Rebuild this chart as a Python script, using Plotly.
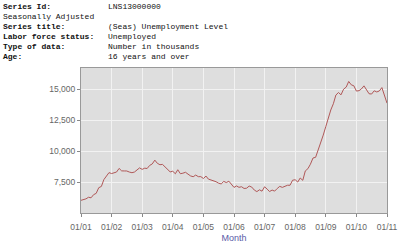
import plotly.graph_objects as go

values = {
    2001: [6023, 6089, 6141, 6271, 6226, 6484, 6583, 7042, 7142, 7694, 8003, 8258],
    2002: [8182, 8215, 8304, 8599, 8399, 8393, 8390, 8304, 8251, 8307, 8520, 8640],
    2003: [8520, 8618, 8588, 8842, 8957, 9266, 9011, 8896, 8921, 8732, 8576, 8317],
    2004: [8370, 8167, 8491, 8170, 8212, 8286, 8136, 7990, 7927, 8061, 7932, 7934],
    2005: [7784, 7980, 7737, 7672, 7651, 7524, 7406, 7345, 7553, 7453, 7566, 7279],
    2006: [7064, 7184, 7072, 7120, 6980, 7001, 7175, 7091, 6847, 6727, 6872, 6762],
    2007: [7116, 6927, 6731, 6850, 6766, 6979, 7149, 7067, 7170, 7237, 7240, 7645],
    2008: [7685, 7497, 7822, 7637, 8395, 8575, 8937, 9438, 9494, 10074, 10538, 11286],
    2009: [11984, 12737, 13310, 13816, 14518, 14721, 14534, 14993, 15159, 15612, 15340, 15267],
    2010: [14837, 14871, 15005, 15260, 14973, 14623, 14599, 14860, 14767, 14843, 15119, 14485],
    2011: [13863],
}

months = []
levels = []
for yr, vals in values.items():
    for i, v in enumerate(vals):
        months.append(f"{yr}-{i+1:02d}-01")
        levels.append(v)

header_labels = ["Series Id:", "Seasonally Adjusted", "Series title:",
                 "Labor force status:", "Type of data:", "Age:"]
header_bold = [True, False, True, True, True, True]
header_values = ["LNS13000000", "", "(Seas) Unemployment Level",
                 "Unemployed", "Number in thousands", "16 years and over"]

W, H = 400, 249
ML, MR, MT, MB = 81, 13, 68, 36
PW, PH = W - ML - MR, H - MT - MB


def px_x(px):
    return (px - ML) / PW


def px_y(py):
    return (H - MB - py) / PH


fig = go.Figure()
fig.add_trace(go.Scatter(x=months, y=levels, mode="lines",
                         line=dict(color="#b05858", width=1), hoverinfo="skip"))

annotations = []
hfont = dict(family="Liberation Mono", size=8, color="#111")
for i, (lab, b, val) in enumerate(zip(header_labels, header_bold, header_values)):
    yc = px_y(6.5 + 10 * i)
    txt = f"<b>{lab}</b>" if b else lab
    annotations.append(dict(text=txt, x=px_x(2), y=yc, xref="paper", yref="paper",
                            xanchor="left", yanchor="middle", showarrow=False,
                            font=hfont, borderpad=0))
    if val:
        annotations.append(dict(text=val, x=px_x(107), y=yc, xref="paper", yref="paper",
                                xanchor="left", yanchor="middle", showarrow=False,
                                font=hfont, borderpad=0))

fig.update_layout(
    width=W, height=H,
    margin=dict(l=ML, r=MR, t=MT, b=MB, pad=0, autoexpand=False),
    paper_bgcolor="white", plot_bgcolor="#dedede",
    showlegend=False,
    annotations=annotations,
    font=dict(family="Liberation Sans", size=8.5, color="#666"),
    xaxis=dict(
        type="date", range=["2001-01-01", "2011-01-01"],
        tickformat="%m/%y", dtick="M12", tick0="2001-01-01",
        showgrid=True, gridcolor="#f2f2f2", gridwidth=1,
        showline=True, linecolor="#999", linewidth=1, mirror=True,
        ticks="outside", ticklen=3, tickcolor="#888",
        ticklabelstandoff=3, automargin=False,
        tickfont=dict(size=8.5, color="#666"),
        title=dict(text="Month", font=dict(size=9, color="#5a5aa8"), standoff=3),
        zeroline=False,
    ),
    yaxis=dict(
        range=[5000, 16700], tickvals=[7500, 10000, 12500, 15000],
        ticktext=["7,500", "10,000", "12,500", "15,000"],
        showgrid=True, gridcolor="#f2f2f2", gridwidth=1,
        showline=True, linecolor="#999", linewidth=1, mirror=True,
        ticks="outside", ticklen=3, tickcolor="#888", automargin=False,
        tickfont=dict(size=8.5, color="#666"),
        zeroline=False,
    ),
)

fig.write_html("out.html")
